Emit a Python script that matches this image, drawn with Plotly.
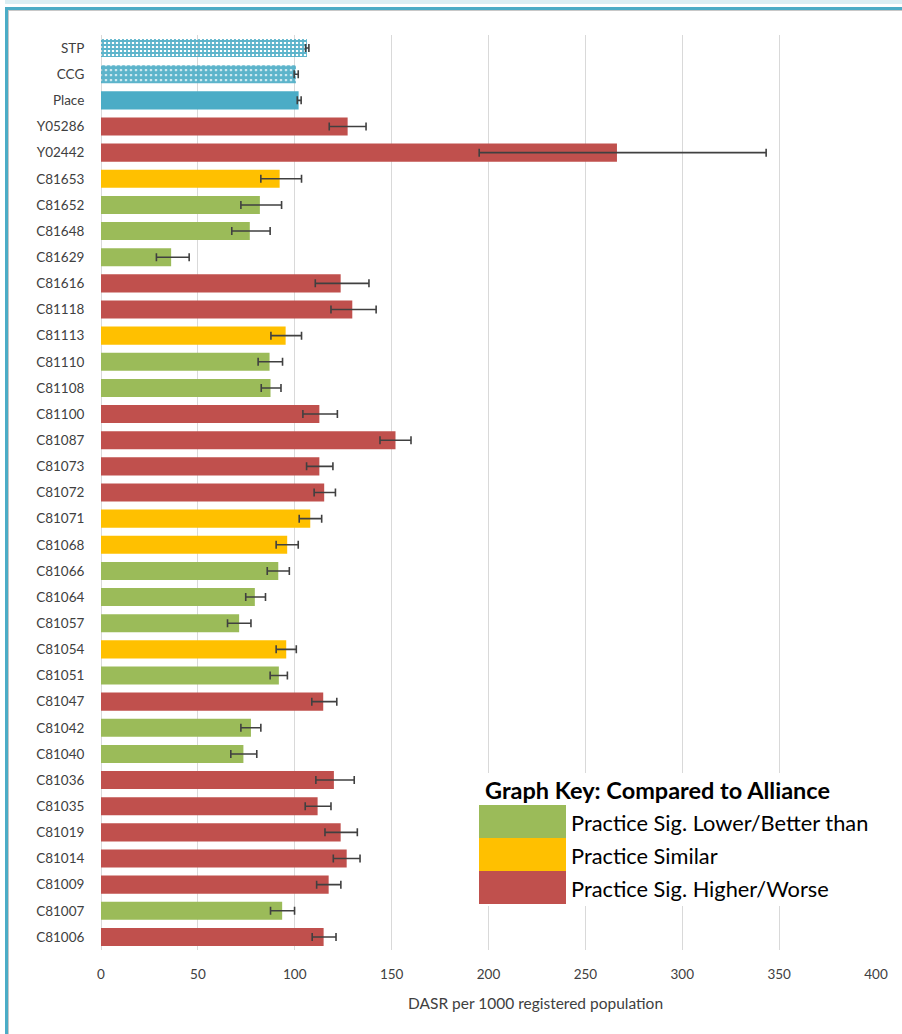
import plotly.graph_objects as go

categories = ["STP", "CCG", "Place", "Y05286", "Y02442", "C81653", "C81652", "C81648",
              "C81629", "C81616", "C81118", "C81113", "C81110", "C81108", "C81100",
              "C81087", "C81073", "C81072", "C81071", "C81068", "C81066", "C81064",
              "C81057", "C81054", "C81051", "C81047", "C81042", "C81040", "C81036",
              "C81035", "C81019", "C81014", "C81009", "C81007", "C81006"]

values = [106.3, 100.6, 102.0, 127.3, 266.3, 92.2, 82.0, 76.8, 36.2, 123.7, 129.7, 95.3,
          87.0, 87.5, 112.7, 152.0, 112.7, 115.2, 108.0, 96.1, 91.5, 79.4, 71.3, 95.6,
          91.8, 114.7, 77.4, 73.5, 120.2, 111.8, 123.7, 126.8, 117.5, 93.5, 114.9]

lower_ci = [105.6, 99.7, 101.3, 117.8, 195.2, 82.5, 72.2, 67.5, 28.6, 110.6, 118.7, 87.7,
            81.1, 82.7, 104.2, 144.0, 106.1, 110.0, 102.3, 90.4, 85.8, 74.7, 65.3, 90.4,
            87.3, 108.8, 72.2, 67.0, 110.9, 105.4, 115.6, 119.9, 111.3, 87.5, 109.0]

upper_ci = [107.3, 101.8, 103.3, 136.8, 343.3, 103.5, 93.2, 87.3, 45.5, 138.3, 142.0, 103.5,
            93.7, 92.9, 122.0, 160.0, 119.7, 121.0, 113.9, 101.8, 97.2, 84.9, 77.4, 100.8,
            96.2, 121.7, 82.5, 80.4, 130.7, 118.7, 132.3, 133.7, 123.8, 99.9, 121.3]

status = ["stp", "ccg", "place", "higher", "higher", "similar", "lower", "lower",
          "lower", "higher", "higher", "similar", "lower", "lower", "higher",
          "higher", "higher", "higher", "similar", "similar", "lower", "lower",
          "lower", "similar", "lower", "higher", "lower", "lower", "higher",
          "higher", "higher", "higher", "higher", "lower", "higher"]

key_labels = ["Practice Sig. Lower/Better than", "Practice Similar", "Practice Sig. Higher/Worse"]
key_title = "Graph Key: Compared to Alliance"
x_title = "DASR per 1000 registered population"
x_ticks = [0, 50, 100, 150, 200, 250, 300, 350, 400]

GREEN = "#9BBB59"
YELLOW = "#FFC000"
RED = "#C0504D"
TEAL = "#4BACC6"

color_map = {"stp": TEAL, "ccg": TEAL, "place": TEAL,
             "lower": GREEN, "similar": YELLOW, "higher": RED}
pattern_map = {"stp": "+", "ccg": ".", "place": "", "lower": "", "similar": "", "higher": ""}
pattern_size = {"stp": 4, "ccg": 5, "place": 4, "lower": 4, "similar": 4, "higher": 4}
pattern_solid = {"stp": 0.7, "ccg": 0.8, "place": 0.3, "lower": 0.3, "similar": 0.3, "higher": 0.3}

colors = [color_map[s] for s in status]
patterns = [pattern_map[s] for s in status]
psizes = [pattern_size[s] for s in status]
psolid = [pattern_solid[s] for s in status]
err_plus = [u - v for u, v in zip(upper_ci, values)]
err_minus = [v - l for v, l in zip(values, lower_ci)]

FONT = "Lato"

fig = go.Figure()
fig.add_trace(go.Bar(
    y=categories, x=values, orientation="h",
    marker=dict(color=colors, line=dict(width=0),
                pattern=dict(shape=patterns, bgcolor=TEAL, fgcolor="#FFFFFF", size=psizes,
                             solidity=psolid, fgopacity=0.9, fillmode="replace")),
    error_x=dict(type="data", symmetric=False, array=err_plus, arrayminus=err_minus,
                 color="#404040", thickness=1.6, width=4),
    showlegend=False, hoverinfo="x+y",
))

# pixel helpers (plot area: x 101..876, y 35..950)
L, R, T, B = 101, 876, 35, 950
def xp(px):
    return (px - L) / (R - L)
def yp(py):
    return (B - py) / (B - T)

shapes = []
# page frame
shapes.append(dict(type="rect", xref="paper", yref="paper", x0=xp(5), x1=xp(902), y0=yp(0), y1=yp(4),
                   fillcolor="#DAEEF3", line=dict(width=0), layer="above"))
shapes.append(dict(type="rect", xref="paper", yref="paper", x0=xp(5), x1=xp(902), y0=yp(7), y1=yp(10),
                   fillcolor=TEAL, line=dict(width=0), layer="above"))
shapes.append(dict(type="rect", xref="paper", yref="paper", x0=xp(5), x1=xp(8), y0=yp(7), y1=yp(1034),
                   fillcolor=TEAL, line=dict(width=0), layer="above"))
shapes.append(dict(type="rect", xref="paper", yref="paper", x0=xp(8), x1=xp(902), y0=yp(10), y1=yp(11),
                   fillcolor="#C8C8C8", line=dict(width=0), layer="above"))
shapes.append(dict(type="rect", xref="paper", yref="paper", x0=xp(8), x1=xp(9), y0=yp(10), y1=yp(1034),
                   fillcolor="#C8C8C8", line=dict(width=0), layer="above"))
# key background
shapes.append(dict(type="rect", xref="paper", yref="paper", x0=xp(470), x1=xp(890), y0=yp(773), y1=yp(906),
                   fillcolor="white", line=dict(width=0), layer="above"))
# key swatches
key_colors = [GREEN, YELLOW, RED]
box_tops = [805, 838, 871]
for c, top in zip(key_colors, box_tops):
    shapes.append(dict(type="rect", xref="paper", yref="paper", x0=xp(479), x1=xp(566),
                       y0=yp(top + 33), y1=yp(top), fillcolor=c, line=dict(width=0), layer="above"))

annotations = [dict(xref="paper", yref="paper", x=xp(483), y=yp(790), text="<b>" + key_title + "</b>",
                    showarrow=False, xanchor="left", yanchor="middle",
                    font=dict(family=FONT, size=23.5, color="#000000"))]
for lab, top in zip(key_labels, box_tops):
    annotations.append(dict(xref="paper", yref="paper", x=xp(569), y=yp(top + 17), text=lab,
                            showarrow=False, xanchor="left", yanchor="middle",
                            font=dict(family=FONT, size=21.8, color="#000000")))
annotations.append(dict(xref="paper", yref="paper", x=xp(535), y=yp(1003), text=x_title,
                        showarrow=False, xanchor="center", yanchor="middle",
                        font=dict(family=FONT, size=15.5, color="#404040")))

fig.update_layout(
    width=902, height=1034,
    margin=dict(l=L, r=902 - R, t=T, b=1034 - B, pad=0),
    paper_bgcolor="white", plot_bgcolor="white",
    bargap=0.31,
    font=dict(family=FONT, size=13, color="#404040"),
    shapes=shapes, annotations=annotations,
    xaxis=dict(range=[0, 400], tickvals=x_ticks, showgrid=True, gridcolor="#D9D9D9", gridwidth=1,
               zeroline=True, zerolinecolor="#D9D9D9", zerolinewidth=1, showline=False,
               ticks="outside", ticklen=12, tickcolor="rgba(0,0,0,0)",
               tickfont=dict(family=FONT, size=13.5, color="#404040")),
    yaxis=dict(autorange="reversed", showgrid=False, showline=False, zeroline=False,
               ticks="outside", ticklen=13, tickcolor="rgba(0,0,0,0)",
               tickfont=dict(family=FONT, size=13.5, color="#404040")),
)

fig.write_html("out.html", config={"displayModeBar": False},
               post_script="document.body.style.margin='0';")
